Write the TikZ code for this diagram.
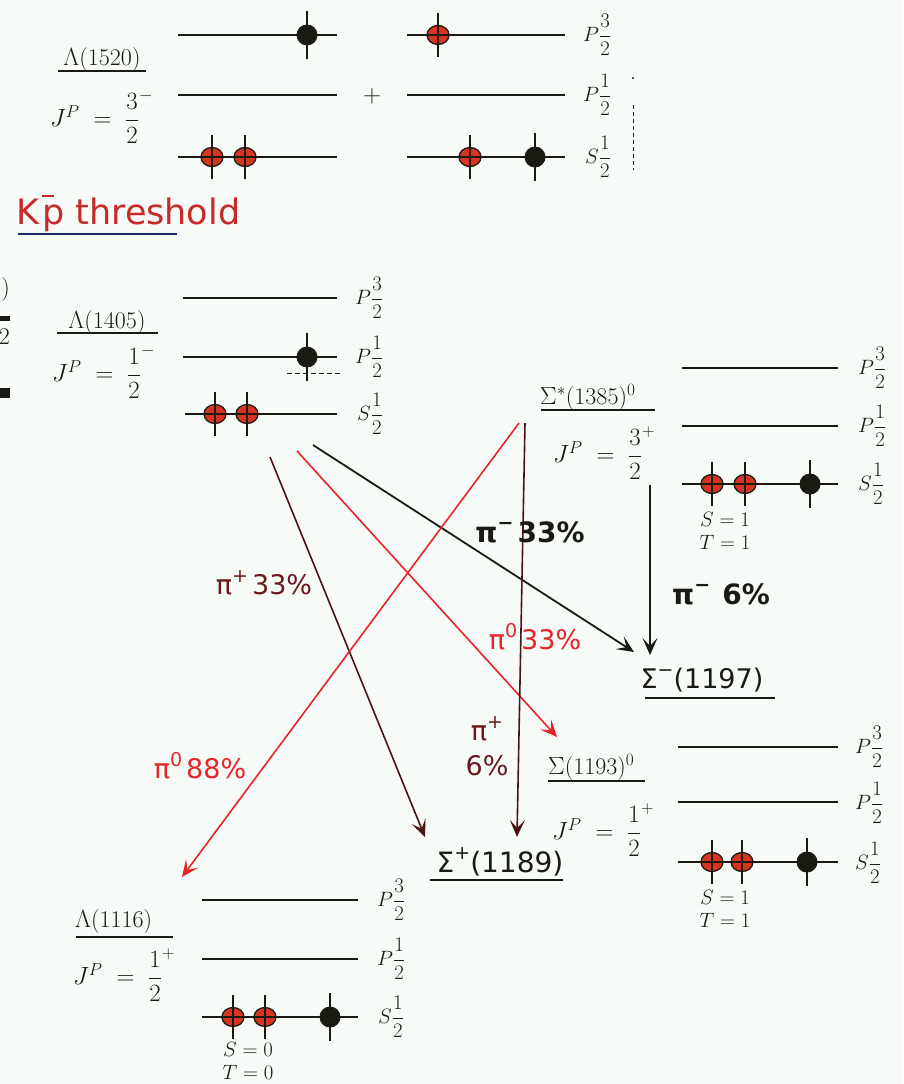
\documentclass[tikz,border=0pt]{standalone}
\usepackage{amsmath}
\usepackage{fontspec}
\newfontfamily\hand{DejaVu Sans}
\usetikzlibrary{arrows.meta}
\definecolor{bg}{HTML}{F7FBF7}
\definecolor{ink}{HTML}{1A1A12}
\definecolor{dotred}{HTML}{D8341E}
\definecolor{arrred}{HTML}{E8242A}
\definecolor{darkmar}{HTML}{4A1416}
\definecolor{labmar}{HTML}{6A1A1E}
\definecolor{kpred}{HTML}{C82A2A}
\definecolor{ulblue}{HTML}{1E2A6A}
\newcommand\sps[1]{\raisebox{0.45em}{\fontsize{19}{19}\selectfont #1}}
\tikzset{
  lvl/.style={draw=ink, line width=2pt},
  uline/.style={draw=ink, line width=1.8pt},
  lab/.style={font=\fontsize{24}{28}\selectfont, inner sep=0pt, text=ink},
  plab/.style={font=\fontsize{22}{26}\selectfont, inner sep=0pt, text=ink, anchor=west},
  small/.style={font=\fontsize{20}{23}\selectfont, inner sep=0pt, text=ink, align=center},
  hnd/.style={font=\hand\fontsize{27}{30}\selectfont, inner sep=0pt},
  hndb/.style={font=\hand\bfseries\fontsize{28}{30}\selectfont, inner sep=0pt},
  tip/.style={-{Stealth[length=17pt,width=15pt,inset=8pt]}},
  arrD/.style={tip, draw=darkmar, line width=1.6pt},
  arrR/.style={tip, draw=arrred, line width=1.6pt},
  arrK/.style={tip, draw=ink, line width=1.8pt},
  rdot/.pic={\draw[ink, line width=1.3pt, fill=dotred] (0,0) ellipse[x radius=11pt, y radius=9.5pt];
             \draw[ink, line width=1.3pt] (-11,0)--(11,0);
             \draw[ink, line width=1.5pt] (0,-22)--(0,22);},
  bdot/.pic={\fill[ink] (0,0) circle[radius=10.5pt];
             \draw[ink, line width=1.6pt] (0,-24)--(0,24);},
}
\begin{document}
\begin{tikzpicture}[x=1pt,y=-1pt]
\useasboundingbox (0,0) rectangle (903,1084);
\fill[bg] (0,0) rectangle (903,1084);

% ---------- left fragments ----------
\node[lab, anchor=east] (fragA) at (10,290) {)};
\fill[ink] (0,316) rectangle (10,321);
\node[lab, anchor=east] (fragB) at (10,337) {2};
\fill[ink] (0,388) rectangle (10,398);

% ---------- Lambda(1520) ----------
\draw[lvl] (178,35) -- (337,35);
\draw[lvl] (178,95) -- (337,95);
\draw[lvl] (178,157) -- (337,157);
\draw[lvl] (407,35) -- (565,35);
\draw[lvl] (407,95) -- (565,95);
\draw[lvl] (407,157) -- (565,157);
\pic at (307,35) {bdot};
\pic at (438,35) {rdot};
\pic at (212,157) {rdot};
\pic at (245,157) {rdot};
\pic at (470,157) {rdot};
\pic at (535,157) {bdot};
\node[lab] (plus) at (372,96) {$+$};
\node[plab] (l1520a) at (583,35) {$P\dfrac{3}{2}$};
\node[plab] (l1520b) at (583,95) {$P\dfrac{1}{2}$};
\node[plab] (l1520c) at (585,157) {$S\dfrac{1}{2}$};
\draw[ink, line width=0.8pt, dash pattern=on 4pt off 3pt] (633,105) -- (633,170);
\fill[ink] (633,78) circle[radius=1.2pt];
\node[lab] (n1520) at (102,60) {$\Lambda$(1520)};
\draw[uline] (58,71) -- (146,71);
\node[lab, anchor=west] (j1520) at (50,117) {$J^{P}\;=\;\dfrac{3}{2}^{-}$};

% ---------- K-p threshold ----------
\node[font=\hand\fontsize{35}{38}\selectfont, text=kpred, inner sep=0pt, anchor=west] (kp) at (16,213)
  {K\hspace{3pt}\rlap{\raisebox{27pt}{\rule{12pt}{2.4pt}}}p threshold};
\draw[ulblue, line width=2.2pt] (18,234) -- (177,234);

% ---------- Lambda(1405) ----------
\draw[lvl] (183,298) -- (337,298);
\draw[lvl] (183,357) -- (337,357);
\draw[lvl] (185,414) -- (337,414);
\pic at (307,357) {bdot};
\pic at (215,414) {rdot};
\pic at (247,414) {rdot};
\draw[ink, line width=0.8pt, dash pattern=on 5pt off 3pt] (287,373) -- (340,373);
\node[plab] (l1405a) at (355,298) {$P\dfrac{3}{2}$};
\node[plab] (l1405b) at (355,357) {$P\dfrac{1}{2}$};
\node[plab] (l1405c) at (357,414) {$S\dfrac{1}{2}$};
\node[lab] (n1405) at (107,323) {$\Lambda$(1405)};
\draw[uline] (57,333) -- (158,333);
\node[lab, anchor=west] (j1405) at (52,372) {$J^{P}\;=\;\dfrac{1}{2}^{-}$};

% ---------- Sigma*(1385)0 ----------
\draw[lvl] (682,368) -- (838,368);
\draw[lvl] (682,426) -- (838,426);
\draw[lvl] (682,484) -- (838,484);
\pic at (712,484) {rdot};
\pic at (745,484) {rdot};
\pic at (810,484) {bdot};
\node[plab] (l1385a) at (858,368) {$P\dfrac{3}{2}$};
\node[plab] (l1385b) at (858,426) {$P\dfrac{1}{2}$};
\node[plab] (l1385c) at (858,484) {$S\dfrac{1}{2}$};
\node[lab, anchor=west] (n1385) at (540,397) {$\Sigma^{*}$(1385)$^{0}$};
\draw[uline] (541,410) -- (655,410);
\node[lab, anchor=west] (j1385) at (553,453) {$J^{P}\;=\;\dfrac{3}{2}^{+}$};
\node[small] (st1385) at (725,531) {$S = 1$\\$T = 1$};

% ---------- Sigma(1193)0 ----------
\draw[lvl] (678,747) -- (838,747);
\draw[lvl] (678,802) -- (838,802);
\draw[lvl] (678,862) -- (838,862);
\pic at (712,862) {rdot};
\pic at (742,862) {rdot};
\pic at (807,862) {bdot};
\node[plab] (l1193a) at (855,747) {$P\dfrac{3}{2}$};
\node[plab] (l1193b) at (855,803) {$P\dfrac{1}{2}$};
\node[plab] (l1193c) at (855,863) {$S\dfrac{1}{2}$};
\node[lab, anchor=west] (n1193) at (548,767) {$\Sigma$(1193)$^{0}$};
\draw[uline] (548,781) -- (645,781);
\node[lab, anchor=west] (j1193) at (552,830) {$J^{P}\;=\;\dfrac{1}{2}^{+}$};
\node[small] (st1193) at (725,909) {$S = 1$\\$T = 1$};

% ---------- Lambda(1116) ----------
\draw[lvl] (202,900) -- (358,900);
\draw[lvl] (202,959) -- (358,959);
\draw[lvl] (202,1017) -- (358,1017);
\pic at (233,1017) {rdot};
\pic at (265,1017) {rdot};
\pic at (330,1017) {bdot};
\node[plab] (l1116a) at (377,900) {$P\dfrac{3}{2}$};
\node[plab] (l1116b) at (377,959) {$P\dfrac{1}{2}$};
\node[plab] (l1116c) at (378,1017) {$S\dfrac{1}{2}$};
\node[lab, anchor=west] (n1116) at (75,921) {$\Lambda$(1116)};
\draw[uline] (76,937) -- (173,937);
\node[lab, anchor=west] (j1116) at (73,975) {$J^{P}\;=\;\dfrac{1}{2}^{+}$};
\node[small] (st1116) at (248,1061) {$S = 0$\\$T = 0$};

% ---------- Sigma- and Sigma+ ----------
\node[hndb, text=ink, font=\hand\fontsize{27}{30}\selectfont] (sm1197) at (702,680) {Σ\sps{−}(1197)};
\draw[uline] (645,698) -- (775,698);
\node[hndb, text=ink, font=\hand\fontsize{28}{30}\selectfont] (sp1189) at (500,862) {Σ\sps{+}(1189)};
\draw[uline] (430,880) -- (563,880);

% ---------- arrow end points ----------
\coordinate (a1s) at (270,457);  \coordinate (a1e) at (425,837);
\coordinate (a2s) at (297,451);  \coordinate (a2e) at (557,737);
\coordinate (a3s) at (313,445);  \coordinate (a3e) at (634,652);
\coordinate (a4s) at (519,423);  \coordinate (a4e) at (182,877);
\coordinate (a5s) at (525,423);  \coordinate (a5e) at (517,837);
\coordinate (a6s) at (650,485);  \coordinate (a6e) at (650,655);

\draw[arrD] (a1s) -- (a1e);
\draw[arrR] (a2s) -- (a2e);
\draw[arrK] (a3s) -- (a3e);
\draw[arrR] (a4s) -- (a4e);
\draw[arrD] (a5s) -- (a5e);
\draw[arrK] (a6s) -- (a6e);

% ---------- decay labels ----------
\node[hndb, text=ink] (t1) at (530,532) {π\sps{−}\hspace{4pt}33\%};
\node[hndb, text=ink] (t2) at (721,594) {π\sps{−}\hspace{12pt}6\%};
\node[hnd, text=arrred] (t3) at (535,637) {π\sps{0}\hspace{4pt}33\%};
\node[hnd, text=labmar] (t4) at (264,583) {π\sps{+}\hspace{4pt}33\%};
\node[hnd, text=arrred] (t5) at (200,766) {π\sps{0}\hspace{4pt}88\%};
\node[hnd, text=labmar, align=center, font=\hand\fontsize{27}{35}\selectfont] (t6) at (487,746) {π\sps{+}\\6\%};
\end{tikzpicture}
\end{document}
